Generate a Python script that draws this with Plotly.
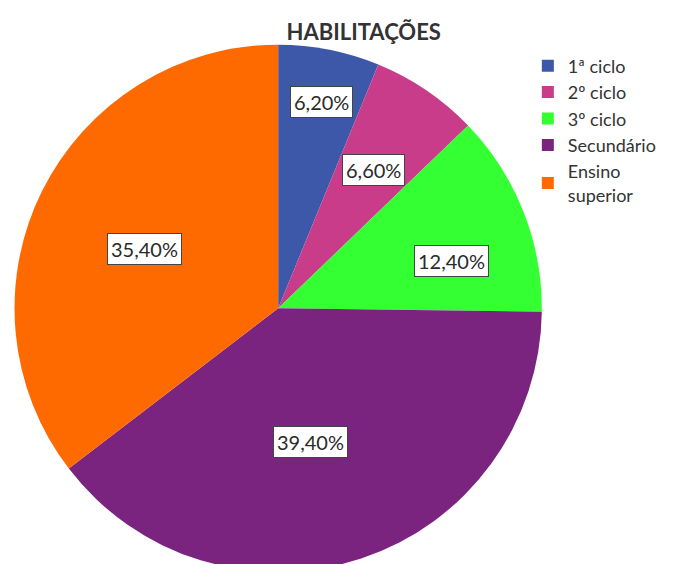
import math
import plotly.graph_objects as go

# Habilitações - pie chart with boxed percentage labels
labels = ["1ª ciclo", "2º ciclo", "3º ciclo", "Secundário", "Ensino<br>superior"]
values = [6.2, 6.6, 12.4, 39.4, 35.4]
colors = ["#3D58A8", "#C83C8A", "#33FF33", "#7A2480", "#FF6A00"]

W, H = 684, 564
DOM_X = [0.0, 0.79]
DOM_Y = [0.0, 0.935]
# label placement: fraction of radius and small angle nudge (deg) per slice
LABEL_R = [0.80, 0.64, 0.69, 0.545, 0.56]
LABEL_DA = [1, 1, 7.5, 5, -3.5]
CX, CY, R = 270, 297, 259  # reference point used for the boxed labels (px)

fig = go.Figure(go.Pie(
    labels=labels,
    values=values,
    marker=dict(colors=colors, line=dict(width=0)),
    sort=False,
    direction="clockwise",
    rotation=0,
    textinfo="none",
    hoverinfo="label+percent",
    domain=dict(x=DOM_X, y=DOM_Y),
))

# label positions follow the slice angles
total = sum(values)
cum = 0
for v, f, da in zip(values, LABEL_R, LABEL_DA):
    theta = math.radians((cum + v / 2) / total * 360 + da)
    cum += v
    px_ = CX + R * f * math.sin(theta)
    py_ = CY - R * f * math.cos(theta)
    fig.add_annotation(
        x=px_ / W, y=1 - py_ / H, xref="paper", yref="paper",
        xanchor="center", yanchor="middle",
        text=f"{v:.2f}%".replace(".", ","),
        showarrow=False,
        bgcolor="white", bordercolor="#444", borderwidth=1, borderpad=3,
        font=dict(size=20, color="#2a2a2a"),
    )

fig.update_layout(
    width=W, height=H,
    margin=dict(l=0, r=0, t=0, b=0),
    paper_bgcolor="white",
    font=dict(family="Lato, Open Sans, Arial", color="#333"),
    title=dict(text="<b>HABILITAÇÕES</b>", x=0.52, xanchor="center", y=0.957, yanchor="middle",
               font=dict(size=22, color="#333")),
    legend=dict(x=0.76, y=0.93, xanchor="left", yanchor="top",
                font=dict(size=18, color="#333"), tracegroupgap=0,
                itemwidth=30),
)

fig.write_html("out.html")
